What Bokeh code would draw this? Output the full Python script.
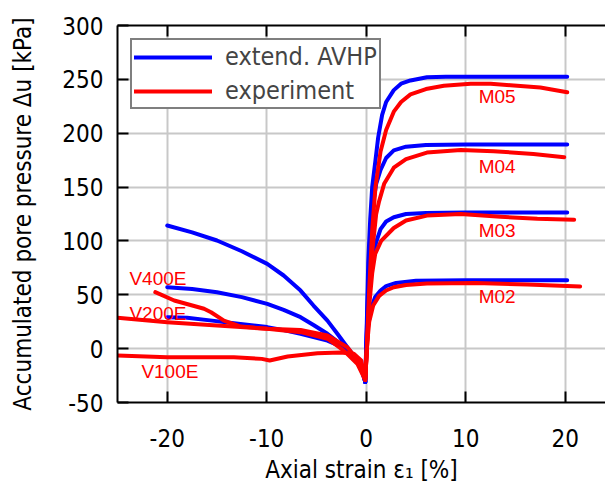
from bokeh.plotting import figure
from bokeh.models import (Range1d, LinearAxis, Legend, LegendItem, FixedTicker,
                          CustomJSTickFormatter, CustomLabelingPolicy)
from bokeh.core.properties import value
from bokeh.embed import file_html
from bokeh.resources import INLINE

x_ticks = [-20, -10, 0, 10, 20]
y_ticks = [-50, 0, 50, 100, 150, 200, 250, 300]

# ---- model (extend. AVHP), compression ----
avhp_m05_x = [-0.1, 0.05, 0.2, 0.4, 0.6, 0.93, 1.2, 1.6, 2.0, 2.77, 3.5, 4.45, 6.1, 8, 12, 16, 20.2]
avhp_m05_y = [-31, 20, 80, 120, 150, 175, 196, 217, 229, 240, 246, 249, 252, 252.5, 252.5, 252.5, 252.5]
avhp_m04_x = [-0.1, 0.05, 0.2, 0.5, 0.75, 1.0, 1.44, 2.0, 2.77, 4, 6, 10, 15, 20.2]
avhp_m04_y = [-31, 15, 60, 115, 138, 153, 166, 177, 184, 187.5, 189, 189.5, 189.5, 189.5]
avhp_m03_x = [-0.1, 0.05, 0.2, 0.5, 0.75, 1.0, 1.44, 2, 2.77, 4, 6, 10, 15, 20.2]
avhp_m03_y = [-31, 10, 45, 75, 88, 99, 111, 118, 122, 125, 126, 126.5, 126.5, 126.5]
avhp_m02_x = [-0.1, 0.05, 0.2, 0.5, 0.9, 1.44, 2, 3, 5, 10, 15, 20.2]
avhp_m02_y = [-31, 3, 22, 38, 48, 54, 58, 61, 63, 63.5, 63.5, 63.5]

# ---- model (extend. AVHP), extension ----
avhp_v400_x = [-20, -17.5, -15, -12.5, -9.95, -8.3, -6.6, -5.3, -3.9, -2.9, -1.9, -0.9, -0.4, -0.1]
avhp_v400_y = [114.3, 108, 100.4, 90.4, 78.7, 67.9, 53.9, 40, 26, 13.8, 1.3, -11, -22, -31]
avhp_v200_x = [-20, -17.5, -15, -12.5, -9.95, -8.3, -6.6, -5.3, -3.9, -2.9, -1.9, -0.57, -0.1]
avhp_v200_y = [57, 55.3, 52.4, 47.8, 41.6, 36, 29.2, 22, 13.8, 6.5, -1.8, -13, -31]
avhp_v100_x = [-20, -18, -15.5, -13.3, -9.95, -8.3, -6.6, -5.3, -3.9, -2.9, -1.9, -0.57, -0.1]
avhp_v100_y = [29.2, 28.6, 26, 23.5, 20, 17.2, 13.8, 10.8, 7.5, 3.5, -1.8, -14, -31]

# ---- experiment, compression ----
exp_m05_x = [-0.1, 0.1, 0.3, 0.6, 0.93, 1.44, 2.0, 2.77, 3.5, 4.45, 6, 7.8, 10.5, 12.5, 14.5, 17.5, 20.2]
exp_m05_y = [-29, 10, 55, 110, 150, 183, 203, 220, 229, 236, 241, 244, 246, 246, 244.5, 242.5, 238]
exp_m04_x = [-0.1, 0.1, 0.3, 0.6, 1.0, 1.3, 1.8, 2.77, 4, 6.1, 9.5, 12.8, 16.8, 19.9]
exp_m04_y = [-29, 5, 45, 90, 125, 137, 153, 168, 176, 182, 184.5, 183.3, 180.8, 177.7]
exp_m03_x = [-0.1, 0.1, 0.3, 0.6, 0.9, 1.5, 2.77, 4, 6.1, 9.5, 13.5, 17.2, 20.9]
exp_m03_y = [-29, 5, 40, 70, 88, 100, 112, 119, 123.5, 125, 122.5, 120.5, 119.6]
exp_m02_x = [-0.1, 0.1, 0.3, 0.7, 1.3, 2.0, 2.77, 4, 6.1, 11, 16.2, 21.5]
exp_m02_y = [-29, 5, 25, 40, 49, 54, 57, 59, 60.5, 61, 59.5, 57.7]

# ---- experiment, extension ----
exp_v400_x = [-21.2, -19.3, -16.3, -15.6, -14.3, -12.6, -9.95, -6.6, -3.9, -2.25, -0.9, -0.24, -0.15]
exp_v400_y = [52.4, 44.7, 37, 33.8, 26, 20.5, 18.4, 15.3, 9.2, -1.8, -14, -26.5, -28]
exp_v200_x = [-25, -20, -15, -9.95, -6.6, -3.9, -1.9, -0.57, -0.24, -0.15]
exp_v200_y = [28.6, 24.5, 21.4, 18.4, 17.4, 12.2, 1.3, -14, -25, -28]
exp_v100_x = [-25, -20, -13.3, -10.5, -9.7, -7.9, -4.9, -2.6, -1.25, -0.5, -0.15]
exp_v100_y = [-6.4, -8, -8, -9.5, -11, -7.3, -4.3, -3.6, -4.8, -11, -28]

label_text = ["M05", "M04", "M03", "M02", "V400E", "V200E", "V100E"]
label_x = [11.3, 11.3, 11.3, 11.3, -23.8, -23.8, -22.6]
label_y = [234.5, 169.5, 109.7, 48.4, 65, 33, -21.3]

FONT = "DejaVu Sans Condensed"
FS = "24px"
BLUE = "#0000ff"
RED = "#ff0000"

p = figure(width=605, height=493, output_backend="svg", toolbar_location=None,
           x_range=Range1d(-25, 24.05), y_range=Range1d(-50, 300),
           min_border_left=117, min_border_right=0, min_border_top=25,
           min_border_bottom=91, outline_line_color=None,
           x_axis_label="Axial strain ε₁ [%]",
           y_axis_label="Accumulated pore pressure Δu [kPa]")
p.background_fill_color = "white"
p.border_fill_color = "white"

fmt = CustomJSTickFormatter(code="return tick.toString();")
for ax in (p.xaxis[0], p.yaxis[0]):
    ax.formatter = fmt
    ax.axis_line_width = 2
    ax.axis_line_color = "black"
    ax.major_tick_in = 11
    ax.major_tick_out = 0
    ax.major_tick_line_width = 2
    ax.minor_tick_line_color = None
    ax.major_label_text_font = FONT
    ax.major_label_text_font_size = FS
    ax.major_label_text_color = "black"
    ax.axis_label_text_font = FONT
    ax.axis_label_text_font_size = FS
    ax.axis_label_text_font_style = "normal"
    ax.axis_label_text_color = "black"

p.xaxis[0].ticker = FixedTicker(ticks=x_ticks)
p.yaxis[0].ticker = FixedTicker(ticks=y_ticks)
p.xaxis[0].major_label_standoff = 26
p.xaxis[0].axis_label_standoff = 6
p.yaxis[0].major_label_standoff = 14
p.yaxis[0].axis_label_standoff = 22

hide_all = CustomLabelingPolicy(code="for (const i of Array.from(indices)) { indices.unset(i) } return indices;")
top = LinearAxis(ticker=FixedTicker(ticks=x_ticks), axis_line_width=2,
                 major_tick_in=11, major_tick_out=0, major_tick_line_width=2,
                 minor_tick_line_color=None, major_label_text_font_size="1px",
                 major_label_standoff=0, major_label_policy=hide_all)
p.add_layout(top, "above")

p.xgrid.ticker = FixedTicker(ticks=x_ticks)
p.ygrid.ticker = FixedTicker(ticks=y_ticks)
p.grid.grid_line_color = "#c8c8c8"
p.grid.grid_line_width = 2

lw = 4
blue_sets = [(avhp_m05_x, avhp_m05_y), (avhp_m04_x, avhp_m04_y), (avhp_m03_x, avhp_m03_y),
             (avhp_m02_x, avhp_m02_y), (avhp_v400_x, avhp_v400_y), (avhp_v200_x, avhp_v200_y),
             (avhp_v100_x, avhp_v100_y)]
red_sets = [(exp_m05_x, exp_m05_y), (exp_m04_x, exp_m04_y), (exp_m03_x, exp_m03_y),
            (exp_m02_x, exp_m02_y), (exp_v400_x, exp_v400_y), (exp_v200_x, exp_v200_y),
            (exp_v100_x, exp_v100_y)]
blue_r = []
for xs, ys in blue_sets:
    blue_r.append(p.line(xs, ys, line_color=BLUE, line_width=lw, line_join="round", line_cap="round"))
red_r = []
for xs, ys in red_sets:
    red_r.append(p.line(xs, ys, line_color=RED, line_width=lw, line_join="round", line_cap="round"))

p.text(x=label_x, y=label_y, text=label_text, text_color=RED,
       text_font=value("Liberation Sans"), text_font_size="19px",
       text_align="left", text_baseline="middle")

legend = Legend(items=[LegendItem(label="extend. AVHP", renderers=[blue_r[0]]),
                       LegendItem(label="experiment", renderers=[red_r[0]])],
                location="top_left", margin=13, padding=2, spacing=5,
                glyph_width=78, glyph_height=24, label_height=24,
                label_standoff=13, label_text_font=FONT, label_text_font_size="25px",
                border_line_color="black", border_line_width=2,
                background_fill_alpha=1.0)
p.add_layout(legend)

open("out.html", "w").write(file_html(p, INLINE))
